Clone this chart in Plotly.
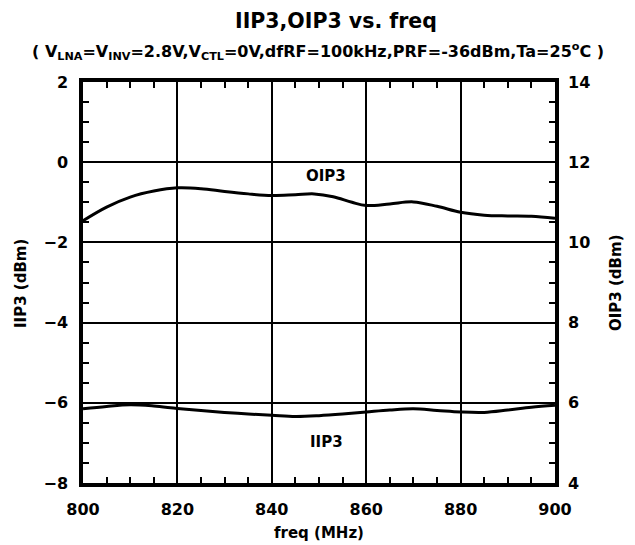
import plotly.graph_objects as go

freq = [800, 805, 810, 815, 820, 825, 830, 835, 840, 845, 849, 853, 857, 860, 865, 870, 875, 880, 885, 890, 895, 900]
oip3 = [10.54, 10.88, 11.13, 11.28, 11.36, 11.34, 11.27, 11.21, 11.17, 11.19, 11.21, 11.14, 11.0, 10.92, 10.96, 11.01, 10.9, 10.75, 10.68, 10.66, 10.65, 10.6]

freq_i = [800, 805, 810, 815, 820, 825, 830, 835, 840, 845, 850, 855, 860, 865, 870, 875, 880, 885, 890, 895, 900]
iip3 = [-6.15, -6.09, -6.05, -6.08, -6.14, -6.19, -6.24, -6.28, -6.31, -6.34, -6.32, -6.28, -6.23, -6.18, -6.15, -6.19, -6.23, -6.24, -6.18, -6.11, -6.06]

x_ticks = [800, 820, 840, 860, 880, 900]
left_ticks = [-8, -6, -4, -2, 0, 2]
right_ticks = [4, 6, 8, 10, 12, 14]

FONT = "DejaVu Sans"
BOLD = "bold"

OFF = 8  # default page margin around the plot div
W, H = 635 - OFF, 545 - OFF
L, R, T, B = 83 - OFF, 80, 82 - OFF, 62
PW, PH = W - L - R, H - T - B

def px_x(x):
    return (x - OFF - L) / PW

def px_y(y):
    return (H - B - (y - OFF)) / PH

fig = go.Figure()
fig.add_trace(go.Scatter(x=freq_i, y=iip3, mode="lines", line=dict(color="black", width=3, shape="spline"),
                         yaxis="y", showlegend=False))
fig.add_trace(go.Scatter(x=freq, y=oip3, mode="lines", line=dict(color="black", width=3, shape="spline"),
                         yaxis="y2", showlegend=False))

tickfont = dict(family=FONT, size=16, color="black", weight=BOLD)
minor_common = dict(ticks="inside", ticklen=6, tickwidth=2, tickcolor="black", showgrid=False)

fig.update_layout(
    width=W, height=H,
    margin=dict(l=L, r=R, t=T, b=B),
    paper_bgcolor="white", plot_bgcolor="white",
    font=dict(family=FONT, color="black"),
    xaxis=dict(range=[800, 900], tickvals=x_ticks, ticks="inside", ticklen=6, tickwidth=2, tickcolor="black",
               showgrid=True, gridcolor="black", gridwidth=2,
               showline=True, linecolor="black", linewidth=3.5, mirror="allticks",
               minor=dict(dtick=5, **minor_common),
               tickfont=tickfont, ticklabelstandoff=9, automargin=False,
               zeroline=False),
    yaxis=dict(range=[-8, 2], tickvals=left_ticks, ticks="inside", ticklen=6, tickwidth=2, tickcolor="black",
               showgrid=True, gridcolor="black", gridwidth=2,
               showline=True, linecolor="black", linewidth=3.5, mirror=True,
               minor=dict(dtick=0.5, **minor_common),
               tickfont=tickfont, ticklabelstandoff=8, automargin=False,
               zeroline=False),
    yaxis2=dict(range=[4, 14], tickvals=right_ticks, overlaying="y", side="right", ticks="inside", ticklen=6,
                tickwidth=2, tickcolor="black", showgrid=False, showline=False,
                minor=dict(dtick=0.5, **minor_common),
                tickfont=tickfont, ticklabelstandoff=12, automargin=False,
                zeroline=False),
)

fig.add_annotation(text="IIP3,OIP3 vs. freq", xref="paper", yref="paper", x=px_x(336), y=px_y(21),
                   showarrow=False, font=dict(family=FONT, size=20.5, weight=BOLD), yanchor="middle", xanchor="center",
                   borderpad=0)
fig.add_annotation(text="( V<sub>LNA</sub>=V<sub>INV</sub>=2.8V,V<sub>CTL</sub>=0V,dfRF=100kHz,PRF=-36dBm,Ta=25<sup>o</sup>C )",
                   xref="paper", yref="paper", x=px_x(318), y=px_y(51), showarrow=False,
                   font=dict(family=FONT, size=16, weight=BOLD), yanchor="middle", xanchor="center")
fig.add_annotation(text="freq (MHz)", xref="paper", yref="paper", x=px_x(319), y=px_y(533), showarrow=False,
                   font=dict(family=FONT, size=15, weight=BOLD), yanchor="middle", xanchor="center")
fig.add_annotation(text="IIP3 (dBm)", xref="paper", yref="paper", x=px_x(21), y=px_y(283), showarrow=False,
                   textangle=-90, font=dict(family=FONT, size=15, weight=BOLD), yanchor="middle", xanchor="center")
fig.add_annotation(text="OIP3 (dBm)", xref="paper", yref="paper", x=px_x(616), y=px_y(283), showarrow=False,
                   textangle=-90, font=dict(family=FONT, size=15, weight=BOLD), yanchor="middle", xanchor="center")
fig.add_annotation(text="OIP3", x=851.5, y=-0.35, xref="x", yref="y", showarrow=False,
                   font=dict(family=FONT, size=15, weight=BOLD))
fig.add_annotation(text="IIP3", x=851.5, y=-6.97, xref="x", yref="y", showarrow=False,
                   font=dict(family=FONT, size=15, weight=BOLD))

fig.write_html("out.html")
